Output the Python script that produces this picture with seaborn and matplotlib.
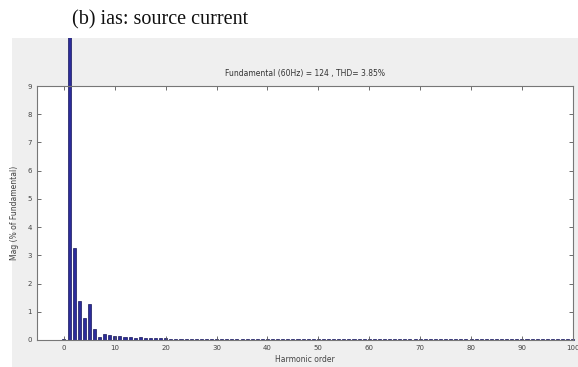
import matplotlib
matplotlib.use("Agg")
import matplotlib.pyplot as plt
import matplotlib.patches as mpatches
from matplotlib.transforms import Bbox, TransformedBbox
import pandas as pd
import seaborn as sns

# harmonic spectrum of the source current (% of fundamental)
harmonic_order = list(range(0, 101))
mag_low = [0.05, 100, 3.25, 1.38, 0.78, 1.28, 0.38, 0.12, 0.22, 0.18,
           0.15, 0.14, 0.10, 0.10, 0.08, 0.09, 0.07, 0.07, 0.07, 0.06, 0.07]
mag_high = [0.05, 0.04, 0.05, 0.05, 0.04, 0.05, 0.05, 0.04, 0.05, 0.05,
            0.04, 0.05, 0.05, 0.04, 0.05, 0.05, 0.04, 0.05, 0.05, 0.04,
            0.05, 0.05, 0.04, 0.05, 0.05, 0.04, 0.05, 0.05, 0.04, 0.05,
            0.05, 0.04, 0.05, 0.05, 0.04, 0.05, 0.05, 0.04, 0.05, 0.05,
            0.04, 0.05, 0.05, 0.04, 0.05, 0.05, 0.04, 0.05, 0.05, 0.04,
            0.05, 0.05, 0.04, 0.05, 0.05, 0.04, 0.05, 0.05, 0.04, 0.05,
            0.05, 0.04, 0.05, 0.05, 0.04, 0.05, 0.05, 0.04, 0.05, 0.05,
            0.04, 0.05, 0.05, 0.04, 0.05, 0.05, 0.04, 0.05, 0.05, 0.04]
mag = mag_low + mag_high
x_ticks = [0, 10, 20, 30, 40, 50, 60, 70, 80, 90, 100]
y_ticks = [0, 1, 2, 3, 4, 5, 6, 7, 8, 9]
title_text = "Fundamental (60Hz) = 124 , THD= 3.85%"

df = pd.DataFrame({'order': harmonic_order, 'mag': mag})

fig = plt.figure(figsize=(5.78, 3.67), dpi=100)
fig.patch.set_facecolor('white')
panel = mpatches.Rectangle((0.02, 0), 0.98, 0.896, transform=fig.transFigure,
                           facecolor='#efefef', edgecolor='none', zorder=-5)
fig.patches.append(panel)

ax = fig.add_axes([0.064, 0.0736, 0.927, 0.692])
ax.set_zorder(2)
ax.set_facecolor('white')
sns.barplot(data=df, x='order', y='mag', native_scale=True, ax=ax,
            color='#2c2c9c', edgecolor='#16165a', linewidth=0.5,
            saturation=1, width=0.6)
# the fundamental bar runs past the axes up to the top of the grey panel
clip_box = TransformedBbox(Bbox([[0.0, 0.0], [1.0, 0.896]]), fig.transFigure)
for bar in ax.patches:
    bar.set_clip_box(clip_box)

ax.set_xlim(-5.3, 100)
ax.set_ylim(0, 9)
ax.set_xticks(x_ticks)
ax.set_xticklabels([str(t) for t in x_ticks])
ax.set_yticks(y_ticks)
ax.tick_params(direction='in', top=True, right=True, labelsize=5,
               length=3, width=0.6, colors='#555555', labelcolor='#444444')
for s in ax.spines.values():
    s.set_color('#777777')
    s.set_linewidth(0.8)
ax.set_title(title_text, fontsize=5.5, color='#333333', pad=7)
ax.set_xlabel('Harmonic order', fontsize=5.5, color='#444444', labelpad=3)
ax.set_ylabel('Mag (% of Fundamental)', fontsize=5.5, color='#444444', labelpad=6)

fig.text(0.125, 0.945, '(b) ias: source current', family='Liberation Serif',
         fontsize=14.5, color='#111111', ha='left', va='center')

fig.savefig('out.png', dpi=100)
